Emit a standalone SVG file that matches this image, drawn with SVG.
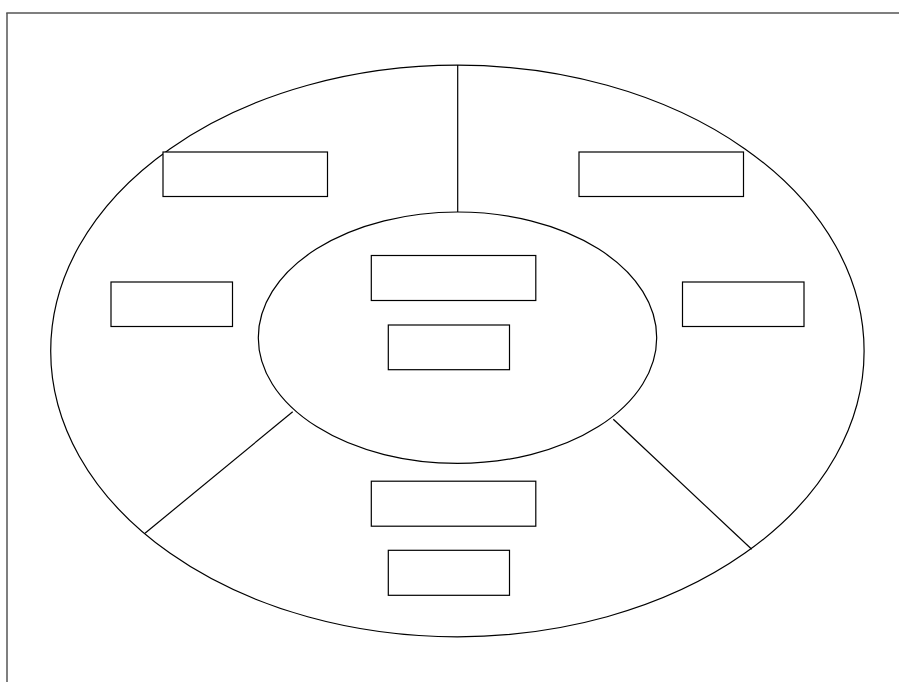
<svg xmlns="http://www.w3.org/2000/svg" width="899" height="682" viewBox="0 0 899 682">
<style>
.s{fill:none;stroke:#000;stroke-width:1.2}
.b{fill:#fff;stroke:#000;stroke-width:1.2}
.f{fill:none;stroke:#555;stroke-width:1.5}
</style>
<rect width="899" height="682" fill="#fff"/>
<line class="f" x1="7" y1="13" x2="7" y2="690"/>
<line class="f" x1="6.25" y1="13" x2="910" y2="13"/>
<g id="outer"><ellipse class="s" cx="457.4" cy="351" rx="406.7" ry="285.8"/></g>
<g id="connectors">
<line class="s" x1="457.7" y1="65" x2="457.7" y2="212"/>
<line class="s" x1="292.7" y1="411.7" x2="145" y2="533.3"/>
<line class="s" x1="613.3" y1="419.3" x2="751.7" y2="549.3"/>
</g>
<g id="inner"><ellipse class="s" cx="457.5" cy="337.7" rx="199.2" ry="125.7"/></g>
<g id="n1"><rect class="b" x="163" y="152" width="164.5" height="44.5"/></g>
<g id="n2"><rect class="b" x="579" y="152" width="164.5" height="44.5"/></g>
<g id="n3"><rect class="b" x="111" y="282" width="121.5" height="44.5"/></g>
<g id="n4"><rect class="b" x="682.5" y="282" width="121.5" height="44.5"/></g>
<g id="n5"><rect class="b" x="371.3" y="255.5" width="164.5" height="45"/></g>
<g id="n6"><rect class="b" x="388.3" y="325" width="121.2" height="44.7"/></g>
<g id="n7"><rect class="b" x="371.3" y="481.2" width="164.5" height="45"/></g>
<g id="n8"><rect class="b" x="388.3" y="550.3" width="121.2" height="45"/></g>
</svg>
